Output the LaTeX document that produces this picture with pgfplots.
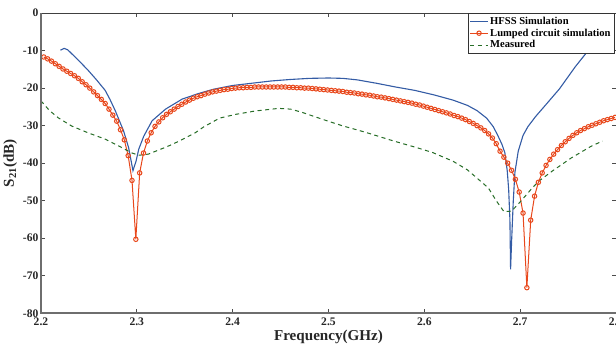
\documentclass[border=0pt]{standalone}
\usepackage{pgfplots}
\pgfplotsset{compat=1.18}
\usepackage{fontspec}
\setmainfont{Liberation Serif}
\definecolor{hfss}{RGB}{52,92,165}
\definecolor{lump}{RGB}{232,72,28}
\definecolor{meas}{RGB}{40,110,40}
\definecolor{axgray}{RGB}{110,110,110}
\begin{document}
\begin{tikzpicture}[trim axis right]
\begin{axis}[
  width=571pt, height=298pt, scale only axis,
  xmin=2.2, xmax=2.8, ymin=-80, ymax=0,
  xtick={2.2,2.3,2.4,2.5,2.6,2.7,2.8},
  xticklabels={2.2,2.3,2.4,2.5,2.6,2.7,2.8},
  ytick={-80,-70,-60,-50,-40,-30,-20,-10,0},
  yticklabels={-80,-70,-60,-50,-40,-30,-20,-10,0},
  tick align=inside, major tick length=4pt,
  axis line style={black!75, line width=0.7pt},
  tick style={black!70, line width=0.7pt},
  ticklabel style={font=\bfseries\fontsize{11.5}{13}\selectfont, text=black!85},
  xticklabel style={yshift=-1pt},
  yticklabel style={xshift=1pt},
  xlabel={Frequency(GHz)}, ylabel={S\textsubscript{21}(dB)},
  label style={font=\bfseries\fontsize{15}{17}\selectfont, text=black!85},
  xlabel style={yshift=2.5pt},
  ylabel style={yshift=-1pt},
  legend style={at={(0.997,1)}, anchor=north east,
    font=\bfseries\fontsize{10.5}{12}\selectfont, draw=black!80, line width=0.6pt,
    inner sep=1.5pt, row sep=-1pt, cells={anchor=west}},
]
\addplot[hfss, line width=1.1pt] table {
2.2203 -9.9
2.2242 -9.4
2.2280 -9.8
2.2320 -10.8
2.2400 -12.8
2.2494 -15.3
2.2580 -17.8
2.2670 -20.6
2.2720 -23.0
2.2775 -26.0
2.2862 -31.4
2.2915 -35.9
2.2960 -42.0
2.2992 -39.5
2.3020 -36.3
2.3073 -32.8
2.3160 -28.7
2.3300 -25.6
2.3475 -22.9
2.3650 -21.4
2.3800 -20.3
2.4000 -19.3
2.4200 -18.7
2.4400 -18.1
2.4600 -17.7
2.4800 -17.4
2.5000 -17.3
2.5150 -17.4
2.5300 -17.8
2.5500 -18.7
2.5700 -19.7
2.5900 -20.6
2.6100 -21.8
2.6300 -23.2
2.6450 -24.6
2.6550 -26.0
2.6650 -28.0
2.6720 -30.3
2.6770 -32.8
2.6810 -35.0
2.6840 -37.2
2.6865 -42.0
2.6880 -47.0
2.6893 -55.0
2.6900 -68.3
2.6912 -60.0
2.6928 -50.2
2.6945 -42.5
2.6980 -36.8
2.7030 -32.6
2.7080 -30.3
2.7160 -27.6
2.7245 -25.1
2.7410 -20.2
2.7575 -14.3
2.7700 -10.3
2.7800 -7.2
2.7900 -4.2
};
\addlegendentry{HFSS Simulation}
\addplot[lump, line width=1pt, mark=o, mark size=2.2pt,
  mark options={solid, line width=1pt, fill=lump!30}] table {
2.203 -11.7
2.207 -12.2
2.211 -12.8
2.215 -13.5
2.219 -14.2
2.223 -14.9
2.227 -15.5
2.231 -16.1
2.235 -16.7
2.239 -17.4
2.243 -18.3
2.247 -19.1
2.251 -20.0
2.255 -21.0
2.259 -22.0
2.263 -23.0
2.267 -24.1
2.271 -25.6
2.275 -27.2
2.279 -28.8
2.283 -31.1
2.287 -33.8
2.291 -38.0
2.295 -44.6
2.299 -60.3
2.303 -42.6
2.307 -37.3
2.311 -34.1
2.315 -31.9
2.319 -30.2
2.323 -29.0
2.327 -27.9
2.331 -27.0
2.335 -26.3
2.339 -25.6
2.343 -24.9
2.347 -24.3
2.351 -23.7
2.355 -23.2
2.359 -22.7
2.363 -22.3
2.367 -22.0
2.371 -21.6
2.375 -21.3
2.379 -21.0
2.383 -20.8
2.387 -20.6
2.391 -20.4
2.395 -20.3
2.399 -20.1
2.403 -20.0
2.407 -19.9
2.411 -19.9
2.415 -19.8
2.419 -19.8
2.423 -19.7
2.427 -19.7
2.431 -19.7
2.435 -19.7
2.439 -19.7
2.443 -19.7
2.447 -19.7
2.451 -19.7
2.455 -19.7
2.459 -19.8
2.463 -19.8
2.467 -19.9
2.471 -19.9
2.475 -20.0
2.479 -20.0
2.483 -20.1
2.487 -20.2
2.491 -20.3
2.495 -20.4
2.499 -20.5
2.503 -20.6
2.507 -20.7
2.511 -20.8
2.515 -20.9
2.519 -21.1
2.523 -21.2
2.527 -21.3
2.531 -21.5
2.535 -21.6
2.539 -21.8
2.543 -21.9
2.547 -22.1
2.551 -22.3
2.555 -22.4
2.559 -22.6
2.563 -22.8
2.567 -23.0
2.571 -23.2
2.575 -23.4
2.579 -23.6
2.583 -23.8
2.587 -24.0
2.591 -24.3
2.595 -24.5
2.599 -24.8
2.603 -25.1
2.607 -25.4
2.611 -25.7
2.615 -26.0
2.619 -26.3
2.623 -26.6
2.627 -26.9
2.631 -27.3
2.635 -27.6
2.639 -28.0
2.643 -28.4
2.647 -28.9
2.651 -29.4
2.655 -30.0
2.659 -30.6
2.663 -31.3
2.667 -32.2
2.671 -33.3
2.675 -34.8
2.679 -36.8
2.683 -38.4
2.687 -40.0
2.691 -41.9
2.695 -44.3
2.699 -47.7
2.703 -53.3
2.707 -73.2
2.711 -55.2
2.715 -48.8
2.719 -45.1
2.723 -42.6
2.727 -40.6
2.731 -39.0
2.735 -37.6
2.739 -36.4
2.743 -35.3
2.747 -34.3
2.751 -33.4
2.755 -32.6
2.759 -31.9
2.763 -31.3
2.767 -30.8
2.771 -30.3
2.775 -29.9
2.779 -29.5
2.783 -29.1
2.787 -28.7
2.791 -28.4
2.795 -28.1
2.799 -27.8
};
\addlegendentry{Lumped circuit simulation}
\addplot[meas, line width=1pt, dash pattern=on 4pt off 3.5pt] table {
2.200 -23.4
2.209 -26.0
2.218 -27.9
2.232 -30.1
2.249 -31.9
2.267 -33.6
2.281 -35.4
2.295 -37.3
2.302 -37.9
2.312 -37.6
2.3287 -35.9
2.337 -35.0
2.349 -33.5
2.3616 -31.8
2.370 -30.3
2.3864 -28.0
2.403 -27.0
2.4235 -26.1
2.448 -25.4
2.4606 -25.6
2.473 -26.5
2.4936 -28.3
2.514 -30.0
2.539 -31.8
2.568 -34.1
2.5926 -35.9
2.609 -37.2
2.630 -39.5
2.645 -41.8
2.6668 -46.6
2.675 -50.0
2.683 -52.9
2.691 -52.8
2.6998 -50.4
2.712 -46.8
2.719 -44.9
2.733 -42.2
2.7534 -38.6
2.774 -35.5
2.786 -34.1
};
\addlegendentry{Measured}
\end{axis}
\draw[axgray, line width=1.6pt] (current axis.north west) -- (current axis.south west) -- (current axis.south east);
\path (current axis.north west) -- ++(0pt,13pt);
\end{tikzpicture}
\end{document}
